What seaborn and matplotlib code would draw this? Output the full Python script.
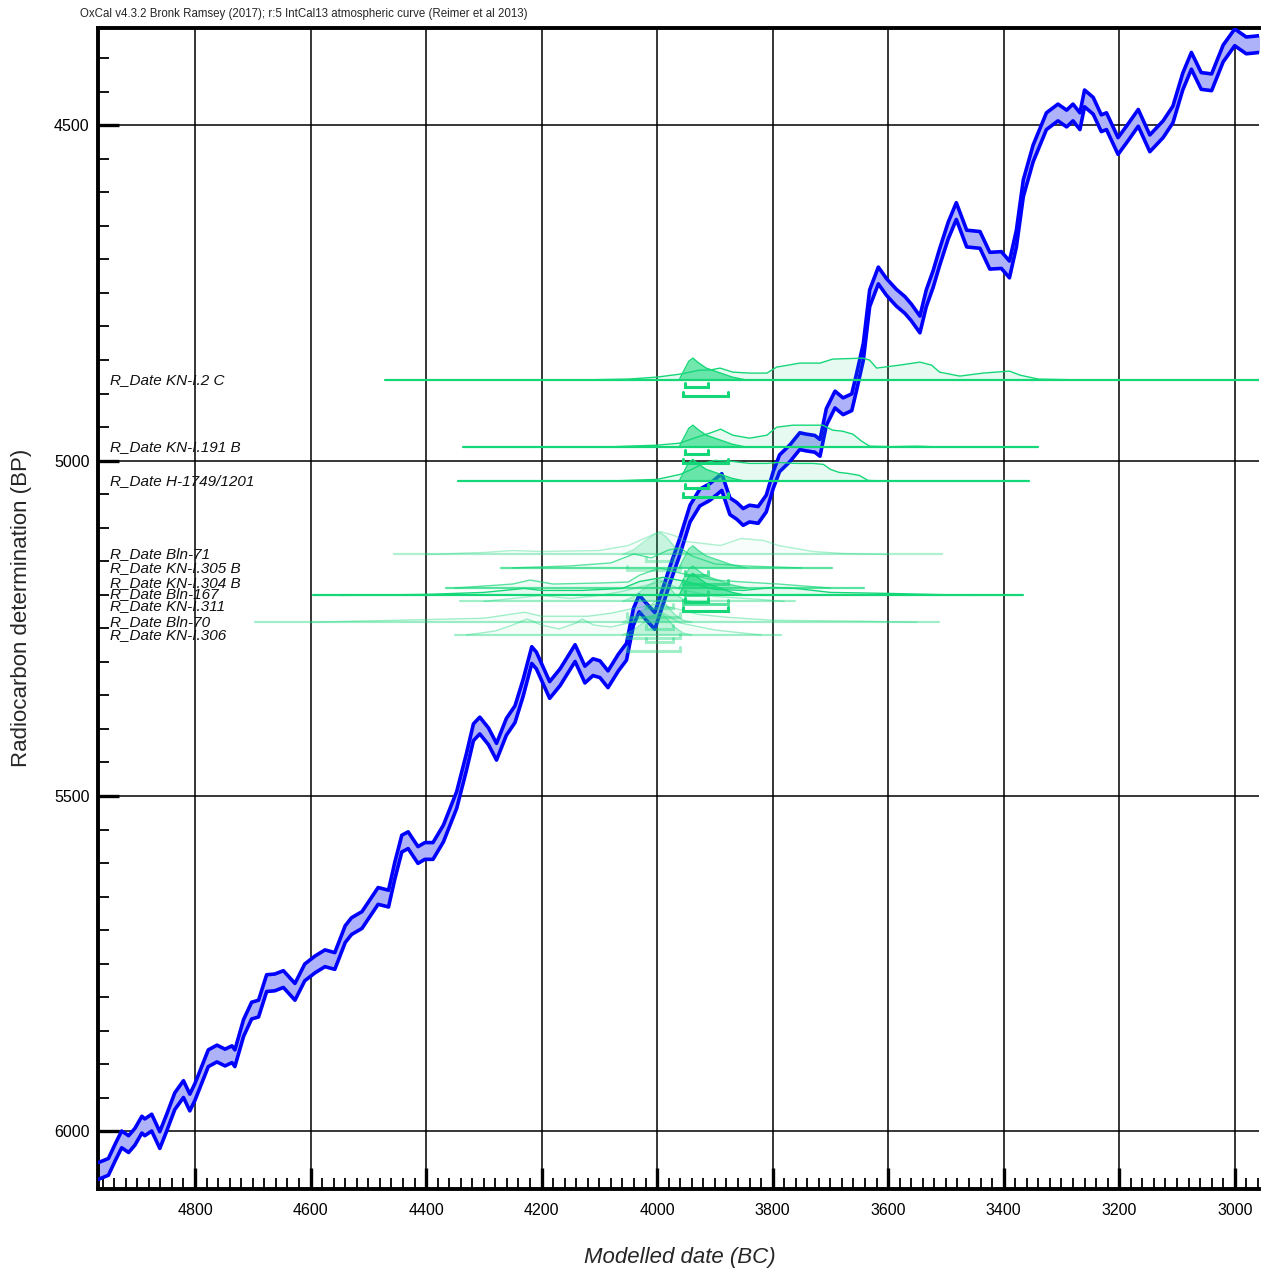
import numpy as np
import matplotlib.pyplot as plt
import matplotlib.transforms as mtransforms
from matplotlib.ticker import MultipleLocator, FormatStrFormatter
import seaborn as sns

sns.set_theme(style="white")
plt.rcParams["font.family"] = ["Liberation Sans", "DejaVu Sans"]

# IntCal13 calibration curve, centre line (BC, BP)
cal_bc = [4967, 4950, 4938, 4927, 4915, 4904, 4892, 4887, 4875, 4861,
          4849, 4835, 4820, 4809, 4800, 4777, 4762, 4748, 4736, 4731,
          4716, 4702, 4690, 4676, 4662, 4647, 4627, 4610, 4592, 4575,
          4558, 4540, 4529, 4511, 4497, 4483, 4465, 4454, 4442, 4431,
          4414, 4402, 4388, 4370, 4347, 4330, 4318, 4307, 4292, 4278,
          4261, 4246, 4232, 4217, 4209, 4186, 4168, 4142, 4125, 4111,
          4099, 4085, 4067, 4053, 4041, 4031, 4018, 4004, 3992, 3978,
          3961, 3943, 3926, 3909, 3888, 3874, 3862, 3851, 3840, 3825,
          3811, 3799, 3788, 3770, 3753, 3742, 3727, 3718, 3707, 3692,
          3678, 3663, 3655, 3643, 3632, 3617, 3603, 3586, 3571, 3560,
          3545, 3534, 3522, 3511, 3496, 3482, 3464, 3441, 3424, 3404,
          3390, 3378, 3366, 3349, 3326, 3306, 3291, 3280, 3268, 3260,
          3245, 3231, 3222, 3202, 3185, 3167, 3147, 3124, 3107, 3090,
          3075, 3058, 3040, 3020, 3000, 2980, 2957]
cal_bp = [6059, 6053, 6031, 6012, 6019, 6008, 5990, 5994, 5987, 6013,
          5987, 5955, 5937, 5957, 5941, 5891, 5884, 5890, 5885, 5891,
          5846, 5820, 5817, 5779, 5778, 5773, 5792, 5763, 5751, 5742,
          5746, 5706, 5694, 5685, 5667, 5649, 5653, 5611, 5571, 5566,
          5588, 5582, 5582, 5556, 5506, 5449, 5405, 5395, 5411, 5434,
          5397, 5378, 5339, 5290, 5298, 5342, 5323, 5287, 5319, 5308,
          5311, 5326, 5301, 5285, 5233, 5213, 5226, 5239, 5208, 5171,
          5129, 5079, 5055, 5047, 5032, 5068, 5075, 5084, 5079, 5081,
          5064, 5029, 5004, 4989, 4971, 4973, 4975, 4981, 4935, 4909,
          4919, 4913, 4884, 4838, 4758, 4724, 4741, 4757, 4768, 4779,
          4797, 4758, 4729, 4697, 4657, 4628, 4669, 4671, 4702, 4701,
          4715, 4669, 4594, 4542, 4494, 4481, 4490, 4481, 4494, 4460,
          4471, 4497, 4494, 4531, 4511, 4489, 4527, 4506, 4484, 4435,
          4404, 4434, 4436, 4393, 4369, 4381, 4379]
cal_err = 12.5

# R_Dates (relative probability, unmodelled likelihoods)
names = ["R_Date KN-I.2 C", "R_Date KN-I.191 B", "R_Date H-1749/1201",
         "R_Date Bln-71", "R_Date KN-I.305 B", "R_Date KN-I.304 B",
         "R_Date Bln-167", "R_Date KN-I.311", "R_Date Bln-70", "R_Date KN-I.306"]

kn2c_bc = [4150, 4050, 4000, 3960, 3926, 3909, 3891, 3869, 3840, 3810, 3793, 3753, 3718,
           3696, 3644, 3632, 3620, 3580, 3545, 3525, 3511, 3476, 3436, 3390, 3372, 3340, 3250]
kn2c_p = [0, 1, 3, 6, 10, 10, 12, 8, 7, 7, 13, 17, 17,
          21, 22, 20, 12, 15, 18, 15, 8, 4, 7, 9, 5, 1, 0]
kn191_bc = [4100, 4000, 3961, 3926, 3909, 3890, 3869, 3840, 3810, 3793, 3765, 3713, 3696,
            3679, 3661, 3646, 3632, 3597, 3550, 3500]
kn191_p = [0, 2, 4, 11, 14, 18, 12, 9, 12, 20, 22, 22, 17, 16, 13, 6, 1, 0.5, 1, 0]
h1749_bc = [4100, 4000, 3960, 3940, 3920, 3900, 3870, 3840, 3810, 3790, 3760, 3730, 3712,
            3700, 3685, 3670, 3650, 3635, 3600]
h1749_p = [0, 2, 7, 12, 18, 21, 20, 18, 18, 19, 18, 18, 17, 12, 9, 8, 6, 1, 0]
bln71_bc = [4400, 4300, 4250, 4200, 4100, 4050, 4030, 3995, 3970, 3950, 3890, 3855, 3815,
            3790, 3730, 3680, 3600]
bln71_p = [0, 2, 4, 3, 4, 9, 14, 23, 19, 13, 9, 16, 14, 9, 3, 1, 0]
kn305_bc = [4250, 4150, 4080, 4040, 4010, 3980, 3960, 3940, 3900, 3850, 3750]
kn305_p = [0, 2, 5, 14, 10, 18, 20, 12, 4, 2, 0]
kn304_bc = [4350, 4250, 4220, 4180, 4100, 4050, 4030, 3995, 3960, 3900, 3850, 3790, 3700]
kn304_p = [0, 4, 8, 4, 5, 6, 13, 20, 15, 8, 6, 4, 0]
bln167_bc = [4550, 4400, 4300, 4230, 4200, 4130, 4060, 4030, 3990, 3950, 3900, 3850, 3800,
             3760, 3700, 3600, 3450]
bln167_p = [0, 1, 3, 7, 5, 5, 7, 14, 18, 14, 6, 5, 8, 7, 3, 2, 0]
kn311_bc = [4300, 4250, 4200, 4150, 4100, 4060, 4020, 3990, 3960, 3900, 3820, 3780]
kn311_p = [0, 3, 6, 3, 6, 10, 16, 20, 12, 5, 2, 0]
bln70_bc = [4600, 4450, 4300, 4230, 4200, 4120, 4080, 4040, 4000, 3970, 3930, 3880, 3800,
            3650, 3550]
bln70_p = [0, 2, 4, 10, 6, 6, 9, 14, 18, 14, 8, 5, 2, 1, 0]
kn306_bc = [4330, 4280, 4250, 4225, 4200, 4170, 4140, 4130, 4110, 4080, 4050, 4020, 3990,
            3960, 3900, 3820]
kn306_p = [0, 4, 10, 16, 10, 6, 12, 16, 10, 8, 12, 18, 22, 12, 5, 0]

# modelled (posterior) shapes
post_early_bc = [3962, 3955, 3945, 3938, 3930, 3915, 3890, 3870, 3845]
post_early_p = [0, 8, 19, 22, 18, 12, 7, 3, 0]
post_late_bc = [4060, 4040, 4020, 4005, 3995, 3985, 3970, 3955, 3940]
post_late_p = [0, 5, 14, 20, 22, 18, 8, 2, 0]

line_from = [4471, 4336, 4345, 4456, 4270, 4366, 4596, 4341, 4696, 4350]
line_to = [2900, 3341, 3357, 3507, 3698, 3642, 3367, 3762, 3512, 3786]
r68_from = [3952, 3952, 3952, 4020, 3952, 3952, 3952, 4020, 4020, 4020]
r68_to = [3912, 3912, 3912, 3973, 3912, 3912, 3912, 3973, 3973, 3973]
r95_from = [3955, 3955, 3955, 4052, 3955, 3955, 3955, 4052, 4052, 4052]
r95_to = [3878, 3878, 3878, 3961, 3878, 3878, 3878, 3961, 3961, 3961]

unmod = [(kn2c_bc, kn2c_p), (kn191_bc, kn191_p), (h1749_bc, h1749_p),
         (bln71_bc, bln71_p), (kn305_bc, kn305_p), (kn304_bc, kn304_p),
         (bln167_bc, bln167_p), (kn311_bc, kn311_p), (bln70_bc, bln70_p),
         (kn306_bc, kn306_p)]
post = [(post_early_bc, post_early_p)] * 3 + [(post_late_bc, post_late_p)] + \
       [(post_early_bc, post_early_p)] * 3 + [(post_late_bc, post_late_p)] * 3

# layout of the rows (BP position of baselines and labels) and drawing strength
row_bp = [4880, 4980, 5031, 5140, 5160, 5190, 5201, 5210, 5241, 5260]
label_bp = [4880, 4980, 5031, 5140, 5160, 5183, 5199, 5217, 5240, 5260]
row_alpha = [1, 1, 1, 0.35, 0.7, 0.7, 1, 0.4, 0.4, 0.4]
p_scale = 1.49
GREEN = "#14d778"

fig = plt.figure(figsize=(12.61, 12.71), dpi=100)
ax = fig.add_axes([0.0777, 0.0645, 0.9207, 0.9135])

bc = np.array(cal_bc)
bp = np.array(cal_bp)
ax.fill_between(bc, bp - cal_err, bp + cal_err, color="#aeb2f8", lw=0, zorder=2)
for edge in (bp - cal_err, bp + cal_err):
    sns.lineplot(x=bc, y=edge, color="#0000ff", lw=2.6, estimator=None,
                 sort=False, ax=ax, zorder=3, solid_joinstyle="round")

trans = mtransforms.blended_transform_factory(ax.transAxes, ax.transData)
for i, name in enumerate(names):
    base = row_bp[i]
    a = row_alpha[i]
    ub, up = np.array(unmod[i][0]), np.array(unmod[i][1]) * p_scale
    ax.fill_between(ub, base, base - up, color=GREEN, alpha=0.1 * a, lw=0, zorder=4)
    ax.plot(ub, base - up, color=GREEN, alpha=a, lw=1.0, zorder=4)
    pb, pp = np.array(post[i][0]), np.array(post[i][1]) * p_scale
    ax.fill_between(pb, base, base - pp, color=GREEN, alpha=0.6 * a, lw=0, zorder=4)
    ax.plot(pb, base - pp, color=GREEN, alpha=a, lw=1.0, zorder=4)
    ax.plot([line_from[i], line_to[i]], [base, base], color=GREEN, alpha=a,
            lw=1.6, zorder=4)
    for off, x0, x1 in [(7, r68_from[i], r68_to[i]), (16, r95_from[i], r95_to[i])]:
        yb = base + off * p_scale
        ax.plot([x0, x0, x1, x1], [yb - 6, yb, yb, yb - 6], color=GREEN, alpha=a,
                lw=2.2, solid_joinstyle="miter", zorder=4)
    ax.text(0.0103, label_bp[i], name, transform=trans, fontsize=11, style="italic",
            ha="left", va="center", color="#111111", zorder=6)

ax.set_xlim(4968, 2958)
ax.set_ylim(6086, 4355)
ax.xaxis.set_major_locator(MultipleLocator(200))
ax.xaxis.set_minor_locator(MultipleLocator(20))
ax.yaxis.set_major_locator(MultipleLocator(500))
ax.yaxis.set_minor_locator(MultipleLocator(50))
ax.xaxis.set_major_formatter(FormatStrFormatter("%d"))
ax.yaxis.set_major_formatter(FormatStrFormatter("%d"))
ax.grid(True, which="major", color="black", lw=1.1)
ax.set_axisbelow(True)
ax.set_xlabel("")
ax.set_ylabel("")

ax.tick_params(which="both", direction="in", bottom=True, left=True,
               top=False, right=False, color="black", labelcolor="black")
ax.tick_params(which="major", length=15, width=2.4, labelsize=11.5)
ax.tick_params(which="minor", length=8, width=1.3)
ax.tick_params(axis="x", which="major", pad=10)
ax.tick_params(axis="y", which="major", pad=6)
for s in ax.spines.values():
    s.set_color("black")
    s.set_linewidth(2.8)
ax.spines["right"].set_visible(False)

fig.text(80 / 1261, 1 - 14 / 1271,
         "OxCal v4.3.2 Bronk Ramsey (2017); r:5 IntCal13 atmospheric curve (Reimer et al 2013)",
         fontsize=8.3, ha="left", va="center")
fig.text(22 / 1261, 1 - 608 / 1271, "Radiocarbon determination (BP)", rotation=90,
         fontsize=16, ha="center", va="center")
fig.text(680 / 1261, 1 - 1258 / 1271, "Modelled date (BC)", style="italic",
         fontsize=16, ha="center", va="center")

plt.savefig("out.png", dpi=100)
